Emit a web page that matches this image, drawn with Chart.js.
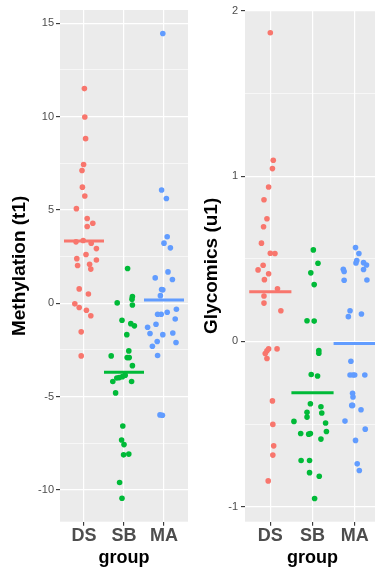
<!DOCTYPE html>
<html>
<head>
<meta charset="utf-8">
<script src="https://cdn.jsdelivr.net/npm/chart.js@4/dist/chart.umd.min.js"></script>
<style>
  html, body { margin: 0; padding: 0; background: #ffffff; width: 375px; height: 572px; overflow: hidden; }
  .panel { position: absolute; top: 0; width: 192px; height: 572px; }
  #leftPanel { left: 0; }
  #rightPanel { left: 192px; }
</style>
</head>
<body>
<div class="panel" id="leftPanel"><canvas id="methChart" width="192" height="572"></canvas></div>
<div class="panel" id="rightPanel"><canvas id="glycChart" width="192" height="572"></canvas></div>
<script>
// Groups on the x axis
const groups = ['DS', 'SB', 'MA'];

// Methylation (t1) scores per group, with the horizontal jitter of each point
const methylationDS = [11.5, 9.98, 8.82, 7.43, 7.11, 6.22, 5.75, 5.07, 4.54, 4.29, 4.11, 3.29, 3.36, 3.22, 2.93, 2.61, 2.39, 2.32, 2.02, 2.09, 1.83, 0.77, 0.50, -0.03, -0.23, -0.37, -0.67, -1.53, -2.82];
const methylationDSJitter = [0.01, 0.02, 0.04, -0.01, -0.05, -0.04, 0.02, -0.19, 0.08, 0.22, 0.08, -0.20, -0.02, 0.18, 0.31, 0.05, -0.18, 0.31, -0.16, 0.14, 0.17, -0.12, 0.11, -0.23, -0.12, 0.06, 0.17, -0.07, -0.07];
const methylationSB = [1.86, 0.36, 0.22, -0.09, 0.02, -0.91, -1.09, -1.21, -1.68, -2.55, -2.82, -2.91, -2.91, -3.34, -3.85, -3.93, -3.98, -4.00, -4.19, -4.19, -4.80, -6.57, -7.32, -7.57, -8.12, -8.08, -9.60, -10.44];
const methylationSBJitter = [0.09, 0.21, 0.20, 0.21, -0.17, -0.05, 0.17, 0.26, 0.07, 0.12, -0.32, 0.08, 0.13, 0.21, 0.03, -0.04, -0.12, -0.18, -0.28, 0.19, -0.21, -0.03, -0.06, 0.00, -0.01, 0.12, -0.11, -0.05];
const methylationMA = [14.45, 6.07, 5.61, 3.56, 3.22, 2.97, 1.68, 1.36, 1.27, 0.74, 0.72, 0.41, -0.32, -0.48, -0.59, -0.59, -0.84, -1.12, -1.28, -1.62, -1.68, -1.59, -2.05, -2.10, -2.30, -2.80, -5.98, -6.00];
const methylationMAJitter = [-0.03, -0.06, 0.06, 0.08, 0.00, 0.16, 0.10, -0.22, 0.21, -0.06, -0.03, -0.09, 0.31, 0.08, -0.16, -0.07, 0.28, -0.20, -0.41, -0.35, -0.03, 0.22, -0.17, 0.30, -0.29, -0.16, -0.10, -0.04];
const methylationMeans = [3.34, -3.69, 0.17];
const methylationTicks = [-10, -5, 0, 5, 10, 15];

// Glycomics (u1) scores per group, with the horizontal jitter of each point
const glycomicsDS = [1.868, 1.097, 1.046, 0.935, 0.858, 0.743, 0.694, 0.595, 0.534, 0.532, 0.461, 0.433, 0.410, 0.374, 0.319, 0.275, 0.232, 0.186, -0.045, -0.045, -0.057, -0.073, -0.103, -0.360, -0.502, -0.632, -0.688, -0.844];
const glycomicsDSJitter = [0.00, 0.07, 0.05, -0.04, -0.15, -0.08, -0.16, -0.21, 0.00, 0.11, -0.17, -0.29, -0.04, -0.14, 0.17, -0.15, -0.15, 0.25, 0.16, -0.04, -0.08, -0.12, -0.08, 0.05, 0.06, 0.08, 0.06, -0.05];
const glycomicsSB = [0.554, 0.473, 0.415, 0.344, 0.125, 0.123, -0.055, -0.071, -0.200, -0.209, -0.377, -0.395, -0.429, -0.433, -0.458, -0.484, -0.494, -0.545, -0.557, -0.561, -0.557, -0.591, -0.721, -0.721, -0.794, -0.816, -0.951];
const glycomicsSBJitter = [0.02, 0.13, -0.04, 0.04, -0.13, 0.04, 0.15, 0.15, -0.03, 0.12, -0.05, 0.20, -0.13, 0.22, -0.13, -0.44, 0.31, 0.33, -0.28, -0.09, -0.05, 0.20, -0.27, -0.07, -0.07, 0.16, 0.05];
const glycomicsMA = [0.568, 0.532, 0.490, 0.475, 0.477, 0.463, 0.437, 0.423, 0.435, 0.370, 0.372, 0.186, 0.150, 0.166, -0.120, -0.203, -0.203, -0.203, -0.203, -0.314, -0.336, -0.387, -0.387, -0.413, -0.482, -0.531, -0.599, -0.741, -0.781];
const glycomicsMAJitter = [0.02, 0.10, 0.05, 0.03, 0.21, 0.28, -0.27, -0.25, 0.21, -0.25, 0.29, -0.11, -0.15, 0.16, -0.09, -0.11, -0.04, 0.00, 0.24, -0.05, -0.04, -0.07, -0.05, 0.15, -0.23, 0.25, 0.02, 0.06, 0.11];
const glycomicsMeans = [0.30, -0.31, -0.012];
const glycomicsTicks = [-1, 0, 1, 2];

const groupColors = ['#F8766D', '#00BA38', '#619CFF'];
const FONT = "'Liberation Sans', Arial, Helvetica, sans-serif";

Chart.defaults.font.family = FONT;

// grey panel behind the grid
const panelBackground = {
  id: 'panelBackground',
  beforeDraw(chart) {
    const { ctx, chartArea: a } = chart;
    ctx.save();
    ctx.fillStyle = '#EBEBEB';
    ctx.fillRect(a.left, a.top, a.right - a.left, a.bottom - a.top);
    ctx.restore();
  }
};

function pointsFor(values, jitter, groupIndex) {
  return values.map((v, i) => ({ x: groupIndex + 1 + jitter[i], y: v }));
}

// minor gridlines sit halfway between the labelled ones
function withMinor(major) {
  const all = major.slice();
  for (let i = 0; i < major.length - 1; i++) all.push((major[i] + major[i + 1]) / 2);
  return all.sort((a, b) => a - b);
}

function buildChart(canvasId, cfg) {
  const isMajor = v => cfg.ticks.includes(v);
  const datasets = [];
  cfg.means.forEach((m, i) => {
    datasets.push({
      data: [{ x: i + 0.5, y: m }, { x: i + 1.5, y: m }],
      showLine: true,
      borderColor: groupColors[i],
      borderWidth: 3,
      borderCapStyle: 'butt',
      pointRadius: 0,
      order: 0
    });
  });
  cfg.series.forEach((s, i) => {
    datasets.push({
      data: pointsFor(s.values, s.jitter, i),
      backgroundColor: groupColors[i],
      borderWidth: 0,
      pointRadius: 2.8,
      order: 1
    });
  });

  return new Chart(document.getElementById(canvasId), {
    type: 'scatter',
    data: { datasets },
    plugins: [panelBackground],
    options: {
      responsive: false,
      animation: false,
      layout: { padding: { top: 10, right: cfg.rightPad, left: 0, bottom: 0 } },
      plugins: { legend: { display: false }, tooltip: { enabled: false } },
      scales: {
        x: {
          type: 'linear',
          min: 0.4,
          max: 3.6,
          afterBuildTicks: s => { s.ticks = groups.map((g, i) => ({ value: i + 1 })); },
          afterFit: s => { s.height = 50.3; },
          ticks: {
            autoSkip: false,
            maxRotation: 0,
            padding: 0,
            color: '#4D4D4D',
            font: { size: 18, weight: 'bold' },
            callback: v => groups[Math.round(v) - 1]
          },
          grid: { color: '#FFFFFF', lineWidth: 1.2, tickLength: 4, tickColor: '#333333', tickWidth: 1.1 },
          border: { display: false },
          title: {
            display: true,
            text: 'group',
            color: '#000000',
            font: { size: 18, weight: 'bold' },
            padding: { top: 0, bottom: 3.4 }
          }
        },
        y: {
          type: 'linear',
          min: cfg.yMin,
          max: cfg.yMax,
          afterBuildTicks: s => { s.ticks = withMinor(cfg.ticks).map(v => ({ value: v })); },
          afterFit: s => { s.width = cfg.axisWidth; },
          ticks: {
            autoSkip: false,
            padding: cfg.labelPad,
            color: '#4D4D4D',
            font: { size: 11 },
            callback: v => (isMajor(v) ? String(v) : '')
          },
          grid: {
            color: '#FFFFFF',
            lineWidth: c => (c.tick && isMajor(c.tick.value) ? 1.2 : 0.6),
            tickLength: 4,
            tickWidth: 1.1,
            tickColor: c => (c.tick && isMajor(c.tick.value) ? '#333333' : 'rgba(0,0,0,0)')
          },
          border: { display: false },
          title: {
            display: true,
            text: cfg.title,
            color: '#000000',
            font: { size: 19, weight: 'bold' },
            padding: { top: 8.6, bottom: 0 }
          }
        }
      }
    }
  });
}

buildChart('methChart', {
  title: 'Methylation (t1)',
  yMin: -11.7,
  yMax: 15.71,
  ticks: methylationTicks,
  means: methylationMeans,
  axisWidth: 60,
  labelPad: 2,
  rightPad: 2.4,
  series: [
    { values: methylationDS, jitter: methylationDSJitter },
    { values: methylationSB, jitter: methylationSBJitter },
    { values: methylationMA, jitter: methylationMAJitter }
  ]
});

buildChart('glycChart', {
  title: 'Glycomics (u1)',
  yMin: -1.091,
  yMax: 2.006,
  ticks: glycomicsTicks,
  means: glycomicsMeans,
  axisWidth: 53,
  labelPad: 3,
  rightPad: 3,
  series: [
    { values: glycomicsDS, jitter: glycomicsDSJitter },
    { values: glycomicsSB, jitter: glycomicsSBJitter },
    { values: glycomicsMA, jitter: glycomicsMAJitter }
  ]
});
</script>
</body>
</html>
